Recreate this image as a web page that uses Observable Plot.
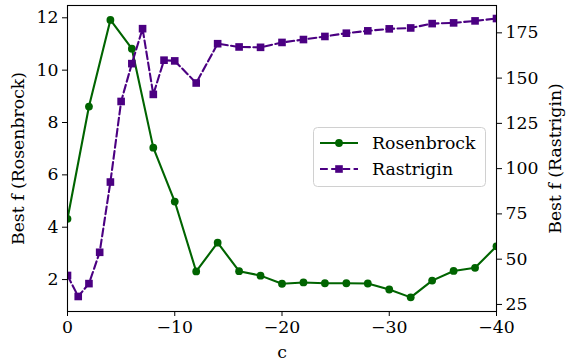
<!DOCTYPE html>
<html>
<head>
<meta charset="utf-8">
<script src="https://cdn.jsdelivr.net/npm/d3@7"></script>
<script src="https://cdn.jsdelivr.net/npm/@observablehq/plot@0.6"></script>
<style>
  html, body { margin: 0; padding: 0; background: white; }
  #wrap { position: relative; width: 566px; height: 360px; }
  #legend { position: absolute; left: 313px; top: 127px; }
</style>
</head>
<body>
<div id="wrap"></div>
<script>
// Data
const rosenC = [0,-2,-4,-6,-8,-10,-12,-14,-16,-18,-20,-22,-24,-26,-28,-30,-32,-34,-36,-38,-40];
const rosenF = [4.32,8.61,11.92,10.82,7.04,4.98,2.31,3.41,2.32,2.15,1.84,1.89,1.86,1.86,1.85,1.62,1.32,1.96,2.33,2.45,3.27];
const rastC = [0,-1,-2,-3,-4,-5,-6,-7,-8,-9,-10,-12,-14,-16,-18,-20,-22,-24,-26,-28,-30,-32,-34,-36,-38,-40];
const rastF = [41,29.4,36.5,53.8,92.6,137.1,158,177.3,141,159.9,159.5,147.3,169,167.2,167,169.7,171.3,173,174.8,176.1,177.2,177.7,180.1,180.5,181.6,182.9];
const xTicks = [0,-10,-20,-30,-40];
const leftTicks = [2,4,6,8,10,12];
const rightTicks = [25,50,75,100,125,150,175];
const seriesNames = ["Rosenbrock","Rastrigin"];
const seriesColors = ["#006400","#4b0082"];

const leftDomain = [0.78, 12.47];
const rightDomain = [21.1, 190.1];
const toLeft = v => leftDomain[0] + (v - rightDomain[0]) * (leftDomain[1]-leftDomain[0]) / (rightDomain[1]-rightDomain[0]);
const fromLeft = v => rightDomain[0] + (v - leftDomain[0]) * (rightDomain[1]-rightDomain[0]) / (leftDomain[1]-leftDomain[0]);

const rosen = rosenC.map((c,i) => ({c, f: rosenF[i]}));
const rast = rastC.map((c,i) => ({c, f: toLeft(rastF[i])}));

const fmt = d3.format("");
const chart = Plot.plot({
  width: 566, height: 360,
  marginLeft: 67, marginRight: 70, marginTop: 5, marginBottom: 49,
  style: { fontFamily: "DejaVu Serif", fontSize: "17.3px", background: "white", color: "black", overflow: "visible" },
  x: { domain: [0, -40] },
  y: { domain: leftDomain },
  marks: [
    Plot.axisX({ ticks: xTicks, tickFormat: fmt, tickSize: 5, tickPadding: 4, label: "c", labelAnchor: "center", labelArrow: "none", labelOffset: 46 }),
    Plot.axisY({ anchor: "left", ticks: leftTicks, tickFormat: fmt, tickSize: 5, tickPadding: 4, label: "Best f (Rosenbrock)", labelAnchor: "center", labelArrow: "none", labelOffset: 56 }),
    Plot.axisY({ anchor: "right", ticks: rightTicks.map(toLeft), tickFormat: d => fmt(Math.round(fromLeft(d))), tickSize: 5, tickPadding: 4, label: "Best f (Rastrigin)", labelAnchor: "center", labelArrow: "none", labelOffset: 64 }),
    Plot.line(rosen, { x: "c", y: "f", stroke: seriesColors[0], strokeWidth: 2.1, clip: true }),
    Plot.dot(rosen, { x: "c", y: "f", fill: seriesColors[0], r: 3.9, symbol: "circle", clip: true }),
    Plot.line(rast, { x: "c", y: "f", stroke: seriesColors[1], strokeWidth: 2.1, strokeDasharray: "7.8,3.4", clip: true }),
    Plot.dot(rast, { x: "c", y: "f", fill: seriesColors[1], r: 4.3, symbol: "square", clip: true }),
    Plot.frame({ stroke: "black", strokeWidth: 1.1 })
  ]
});
const wrap = document.getElementById("wrap");
wrap.appendChild(chart);

// Legend (SVG so the serif font renders like the axes)
const ns = "http://www.w3.org/2000/svg";
const lg = document.createElementNS(ns, "svg");
lg.setAttribute("id", "legend");
lg.setAttribute("width", 174);
lg.setAttribute("height", 61);
let inner = `<rect x="0.5" y="0.5" width="172" height="59" rx="4" ry="4" fill="rgba(255,255,255,0.85)" stroke="#d0d0d0" stroke-width="1"/>`;
seriesNames.forEach((name, i) => {
  const cy = i === 0 ? 16 : 42;
  const dash = i === 1 ? ' stroke-dasharray="7.8,3.4"' : '';
  const marker = i === 0
    ? `<circle cx="26" cy="${cy}" r="3.9" fill="${seriesColors[i]}"/>`
    : `<rect x="22.2" y="${cy - 3.8}" width="7.6" height="7.6" fill="${seriesColors[i]}"/>`;
  inner += `<line x1="7" x2="45" y1="${cy}" y2="${cy}" stroke="${seriesColors[i]}" stroke-width="2.1"${dash}/>${marker}`;
  inner += `<text x="59" y="${cy}" dy="0.36em" font-family="DejaVu Serif" font-size="17.3" fill="#000">${name}</text>`;
});
lg.innerHTML = inner;
wrap.appendChild(lg);
</script>
</body>
</html>
